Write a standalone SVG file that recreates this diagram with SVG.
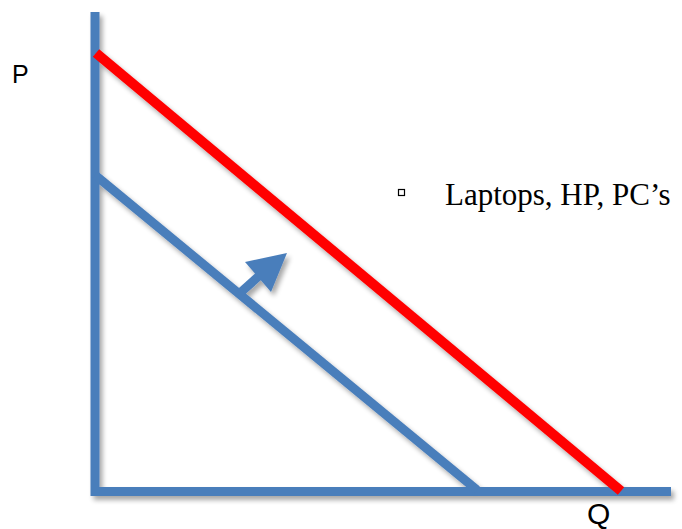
<svg xmlns="http://www.w3.org/2000/svg" width="682" height="529" viewBox="0 0 682 529">
<defs>
<style>
.axis{stroke:#4a7ebb;stroke-width:9;fill:none;stroke-linecap:butt}
.blue{stroke:#4a7ebb;stroke-width:9;fill:none}
.red{stroke:#ff0000;stroke-width:10;fill:none}
.lbl{font-family:"Liberation Sans",Arial,sans-serif;font-size:25px;fill:#000}
.txt{font-family:"Liberation Serif","Times New Roman",serif;font-size:31px;fill:#000}
</style>
<filter id="sh" x="-10%" y="-10%" width="130%" height="130%">
<feGaussianBlur in="SourceAlpha" stdDeviation="2.5"/>
<feOffset dx="3" dy="4" result="b"/>
<feComponentTransfer><feFuncA type="linear" slope="0.35"/></feComponentTransfer>
<feMerge><feMergeNode/><feMergeNode in="SourceGraphic"/></feMerge>
</filter>
</defs>
<rect width="682" height="529" fill="#fff"/>
<g id="connectors" filter="url(#sh)">
<path class="axis" d="M95,12 V491.5 H671"/>
<path class="blue" d="M95,175 L477,490"/>
<path class="red" d="M96,53 L621,491"/>
<g id="arrow">
<path class="blue" d="M240,293 L260,275"/>
<polygon points="287,253 245,262 271,292" fill="#4a7ebb"/>
</g>
</g>
<g id="label-P"><text class="lbl" x="12" y="83">P</text></g>
<g id="label-Q"><text class="lbl" x="587" y="524" style="font-size:30px">Q</text></g>
<g id="bullet-text">
<rect x="398.5" y="189.5" width="6" height="6" fill="none" stroke="#000" stroke-width="1.2"/>
<text class="txt" x="445" y="205">Laptops, HP, PC’s</text>
</g>
</svg>
